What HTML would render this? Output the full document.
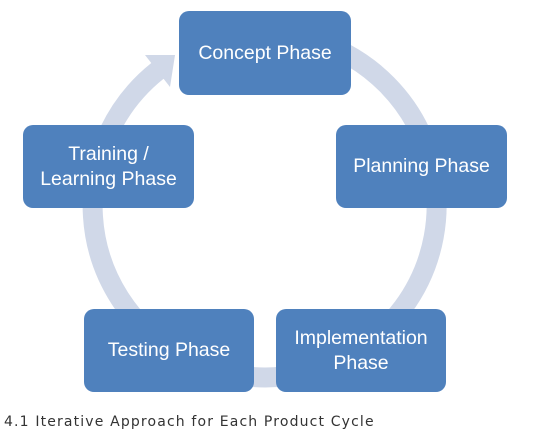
<!DOCTYPE html>
<html><head><meta charset="utf-8"><style>
body{margin:0;background:#fff;width:554px;height:439px;overflow:hidden;position:relative;font-family:"Liberation Sans",sans-serif}
.box{position:absolute;background:#4f81bd;border-radius:10px;color:#fff;font-size:19.5px;display:flex;align-items:center;justify-content:center;text-align:center;line-height:25px}
.cap{position:absolute;left:4px;top:414px;font-family:"DejaVu Sans",sans-serif;font-size:14px;letter-spacing:1.15px;color:#333}
</style></head><body>
<svg width="554" height="439" style="position:absolute;left:0;top:0">
<path d="M157.7,70.7 A172,172 0 1 0 235,36" fill="none" stroke="#d0d8e8" stroke-width="20"/>
<polygon points="175,55 145,55 170,87" fill="#d0d8e8"/>
</svg>
<div class="box" style="left:179px;top:11px;width:172px;height:84px">Concept Phase</div>
<div class="box" style="left:336px;top:125px;width:171px;height:83px">Planning Phase</div>
<div class="box" style="left:276px;top:309px;width:170px;height:83px">Implementation<br>Phase</div>
<div class="box" style="left:84px;top:309px;width:170px;height:83px">Testing Phase</div>
<div class="box" style="left:23px;top:125px;width:171px;height:83px">Training /<br>Learning Phase</div>
<div class="cap">4.1 Iterative Approach for Each Product Cycle</div>
</body></html>
